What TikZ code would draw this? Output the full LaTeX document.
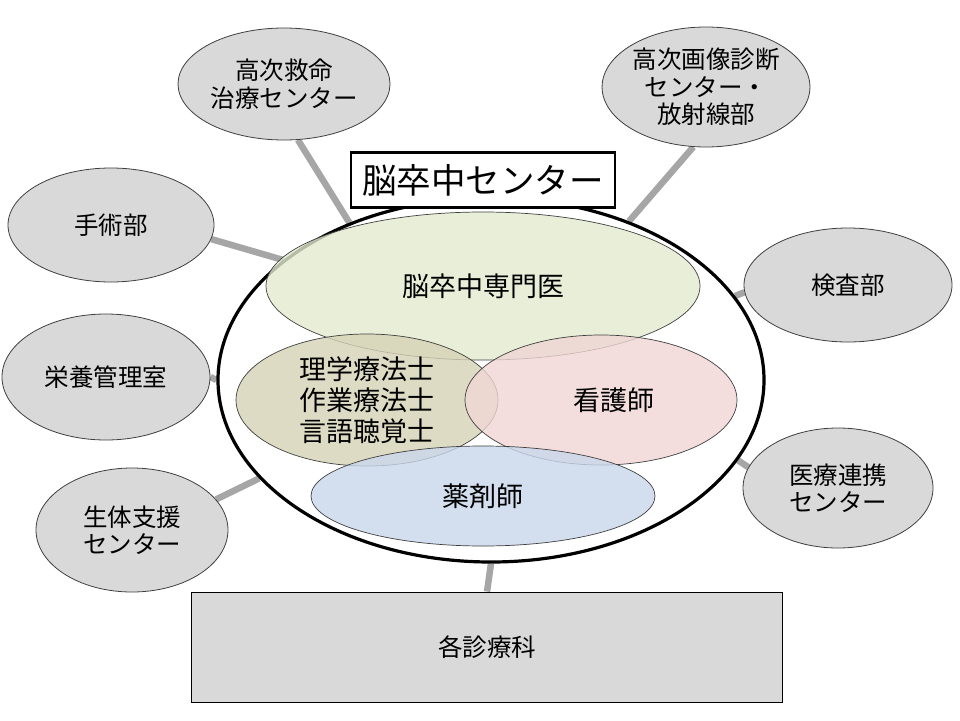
\documentclass[tikz,border=0pt]{standalone}
\usepackage{fontspec}
\setmainfont{Noto Sans CJK JP}
\usetikzlibrary{shapes.geometric,backgrounds}
\definecolor{outerfill}{HTML}{D9D9D9}
\definecolor{outerline}{HTML}{3F3F3F}
\definecolor{linkgray}{HTML}{A6A6A6}
\definecolor{greenfill}{HTML}{E4EACF}
\definecolor{tanfill}{HTML}{D6D3B6}
\definecolor{pinkfill}{HTML}{F0D6D5}
\definecolor{bluefill}{HTML}{C9D8EC}
\tikzset{
  outerell/.style={ellipse, draw=outerline, line width=0.8pt, fill=outerfill, inner sep=0pt,
    align=center, font=\fontsize{24.5}{27.5}\selectfont},
  innerell/.style={ellipse, draw=outerline, line width=0.7pt, fill opacity=0.8, text opacity=1,
    inner sep=0pt, align=center, font=\fontsize{27}{31}\selectfont},
  link/.style={draw=linkgray, line width=6.5pt},
}
\begin{document}
\begin{tikzpicture}[x=1pt,y=-1pt]
\useasboundingbox (0,0) rectangle (960,720);

% outer nodes
\node[outerell, minimum width=212, minimum height=112] (kyumei) at (284,84) {高次救命\\治療センター};
\node[outerell, minimum width=206, minimum height=120] (gazo) at (706,87) {高次画像診断\\センター・\\放射線部};
\node[outerell, minimum width=206, minimum height=114] (shujutsu) at (111,225) {手術部};
\node[outerell, minimum width=208, minimum height=114] (kensa) at (848,285) {検査部};
\node[outerell, minimum width=208, minimum height=126] (eiyo) at (106,377) {栄養管理室};
\node[outerell, minimum width=192, minimum height=124] (seitai) at (132,530) {生体支援\\センター};
\node[outerell, minimum width=190, minimum height=120] (renkei) at (838,488) {医療連携\\センター};

% main ellipse
\node[ellipse, draw=black, line width=3.2pt, fill=white, minimum width=546, minimum height=364, inner sep=0pt] (main) at (491,380) {};

% inner ellipses
\node[innerell, fill=greenfill, minimum width=434, minimum height=148] (senmon) at (483,286) {脳卒中専門医};
\node[innerell, fill=tanfill, minimum width=262, minimum height=132] (riha) at (367,400) {理学療法士\\作業療法士\\言語聴覚士};
\node[innerell, fill=pinkfill, minimum width=272, minimum height=130] (kango) at (601,400) {\hspace*{26pt}看護師};
\node[innerell, fill=bluefill, minimum width=344, minimum height=100] (yaku) at (483,496) {薬剤師};

% title box
\node[draw=black, line width=2.6pt, fill=white, minimum width=264, minimum height=55, inner sep=0pt,
  font=\fontsize{34.5}{36}\selectfont] (title) at (483,180) {脳卒中センター};

% bottom box
\node[draw=black, line width=0.9pt, fill=outerfill, minimum width=591, minimum height=110, inner sep=0pt,
  font=\fontsize{24.5}{26}\selectfont] (shinryo) at (487,647) {各診療科};

\begin{scope}[on background layer]
  \draw[link] (kyumei.-76) -- (main.132);
  \draw[link] (gazo.-102) -- (main.49);
  \draw[link] (shujutsu.-8) -- (main.150);
  \draw[link] (kensa.184) -- (main.19);
  \draw[link] (eiyo.0) -- (main.180);
  \draw[link] (seitai.20) -- (main.203);
  \draw[link] (renkei.167) -- (main.-18);
  \draw[link] (main.south) -- (shinryo.north);
\end{scope}
\end{tikzpicture}
\end{document}
